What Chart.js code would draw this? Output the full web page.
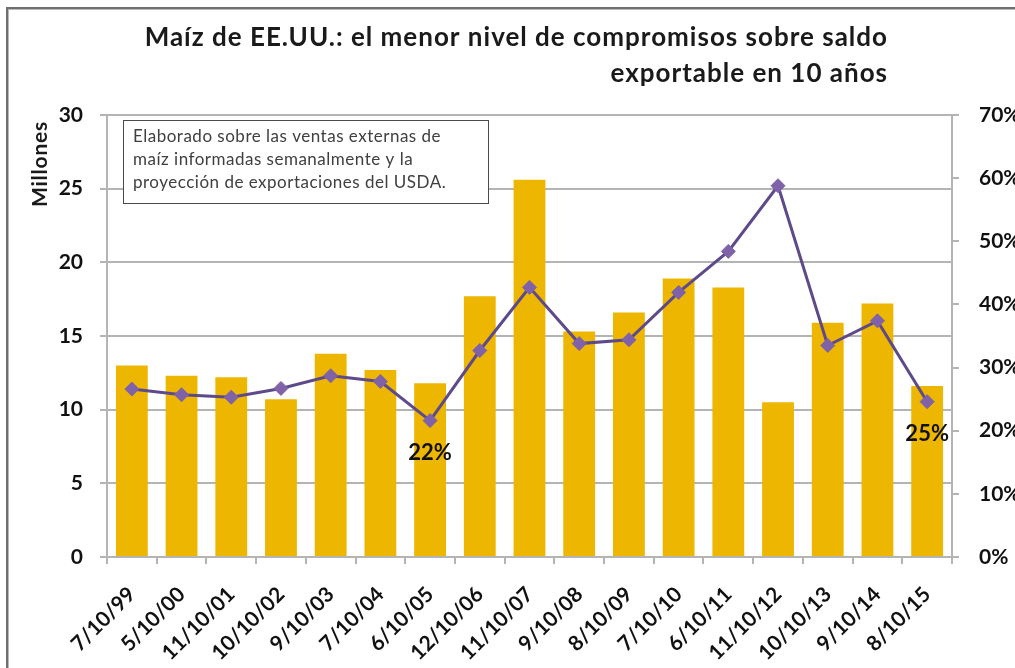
<!DOCTYPE html>
<html>
<head>
<meta charset="utf-8">
<script src="https://cdn.jsdelivr.net/npm/chart.js@4"></script>
<style>
    body { margin: 0; background: #fff; }
    canvas { display: block; }
</style>
</head>
<body>
<canvas id="chart" width="1015" height="668"></canvas>
<script>
// Fechas de cada campaña (eje X)
const categories = ['7/10/99', '5/10/00', '11/10/01', '10/10/02', '9/10/03', '7/10/04', '6/10/05',
    '12/10/06', '11/10/07', '9/10/08', '8/10/09', '7/10/10', '6/10/11', '11/10/12',
    '10/10/13', '9/10/14', '8/10/15'];
// Compromisos de venta, millones de t (eje izquierdo)
const commitments = [13.0, 12.3, 12.2, 10.7, 13.8, 12.7, 11.8, 17.7, 25.6, 15.3, 16.6,
    18.9, 18.3, 10.5, 15.9, 17.2, 11.6];
// Compromisos sobre saldo exportable, % (eje derecho)
const pctOfExportable = [26.6, 25.7, 25.3, 26.7, 28.7, 27.8, 21.6, 32.7, 42.7, 33.8, 34.4,
    41.9, 48.4, 58.8, 33.5, 37.4, 24.6];
const labeledPoints = [6, 16];

const titleLines = ['Maíz de EE.UU.: el menor nivel de compromisos sobre saldo',
    'exportable en 10 años'];
const noteLines = ['Elaborado sobre las ventas externas de',
    'maíz informadas semanalmente y la',
    'proyección de exportaciones del USDA.'];

const FONT = 'Lato, "Open Sans", sans-serif';
const GRID = '#b4b4b4';

// Marco, título, nota y etiquetas de datos
const decorPlugin = {
    id: 'decor',
    afterDraw(chart) {
        const ctx = chart.ctx;
        ctx.save();

        // marco del gráfico (solo lados visibles)
        ctx.fillStyle = '#6e6e6e';
        ctx.fillRect(6, 7, 2, 668);
        ctx.fillRect(6, 7, 1015, 2);
        ctx.fillStyle = '#b8b8b8';
        ctx.fillRect(8, 9, 1, 668);
        ctx.fillRect(8, 9, 1015, 1);

        // título
        ctx.fillStyle = '#1a1a1a';
        ctx.font = 'bold 26px ' + FONT;
        ctx.letterSpacing = '1px';
        ctx.textAlign = 'right';
        ctx.textBaseline = 'middle';
        ctx.fillText(titleLines[0], 888, 38);
        ctx.fillText(titleLines[1], 888, 74);

        // título del eje izquierdo
        ctx.save();
        ctx.translate(40, 164);
        ctx.rotate(-Math.PI / 2);
        ctx.font = 'bold 21px ' + FONT;
        ctx.letterSpacing = '0.8px';
        ctx.textAlign = 'center';
        ctx.fillText('Millones', 0, 0);
        ctx.restore();

        // recuadro de nota
        ctx.fillStyle = '#fff';
        ctx.fillRect(123, 120, 365, 83);
        ctx.strokeStyle = '#4a4a4a';
        ctx.lineWidth = 1;
        ctx.strokeRect(123.5, 120.5, 365, 83);
        ctx.fillStyle = '#404040';
        ctx.font = '17px ' + FONT;
        ctx.letterSpacing = '0.5px';
        ctx.textAlign = 'left';
        noteLines.forEach((line, i) => ctx.fillText(line, 133, 137 + i * 23));

        // etiquetas de porcentaje
        const meta = chart.getDatasetMeta(0);
        ctx.fillStyle = '#111';
        ctx.font = 'bold 22px ' + FONT;
        ctx.letterSpacing = '0px';
        ctx.textAlign = 'center';
        labeledPoints.forEach((idx) => {
            const pt = meta.data[idx];
            ctx.fillText(Math.round(pctOfExportable[idx]) + '%', pt.x, pt.y + 32);
        });

        ctx.restore();
    },
};

new Chart(document.getElementById('chart'), {
    data: {
        labels: categories,
        datasets: [
            {
                type: 'line',
                label: '% saldo exportable',
                data: pctOfExportable,
                yAxisID: 'y1',
                order: 0,
                borderColor: '#5e4a8a',
                borderWidth: 3,
                pointStyle: 'rectRot',
                pointRadius: 7,
                pointBackgroundColor: '#7f62a8',
                pointBorderColor: '#7f62a8',
                pointBorderWidth: 1,
                tension: 0,
            },
            {
                type: 'bar',
                label: 'Compromisos',
                data: commitments,
                yAxisID: 'y',
                order: 1,
                backgroundColor: '#edb600',
                barPercentage: 0.64,
                categoryPercentage: 1,
            },
        ],
    },
    options: {
        responsive: false,
        animation: false,
        layout: { padding: { top: 115, left: 0, right: 0, bottom: 0 } },
        plugins: {
            legend: { display: false },
            tooltip: { enabled: false },
        },
        scales: {
            x: {
                afterFit: (scale) => { scale.height = 111; },
                grid: {
                    offset: true,
                    drawOnChartArea: false,
                    color: GRID,
                    lineWidth: 2,
                    tickLength: 7,
                },
                border: { color: GRID, width: 2 },
                ticks: {
                    color: '#111',
                    font: { family: FONT, size: 21, weight: 'bold' },
                    minRotation: 45,
                    maxRotation: 45,
                    padding: 18,
                    autoSkip: false,
                },
            },
            y: {
                position: 'left',
                min: 0,
                max: 30,
                afterFit: (scale) => { scale.width = 107; },
                grid: { color: GRID, lineWidth: 2, tickLength: 7 },
                border: { color: GRID, width: 2 },
                ticks: {
                    stepSize: 5,
                    color: '#111',
                    padding: 17,
                    font: { family: FONT, size: 21, weight: 'bold' },
                },
            },
            y1: {
                position: 'right',
                min: 0,
                max: 70,
                afterFit: (scale) => { scale.width = 63; },
                grid: { drawOnChartArea: false, color: GRID, lineWidth: 2, tickLength: 7 },
                border: { color: GRID, width: 2 },
                ticks: {
                    stepSize: 10,
                    color: '#111',
                    padding: 20,
                    font: { family: FONT, size: 21, weight: 'bold' },
                    callback: (v) => v + '%',
                },
            },
        },
    },
    plugins: [decorPlugin],
});
</script>
</body>
</html>
